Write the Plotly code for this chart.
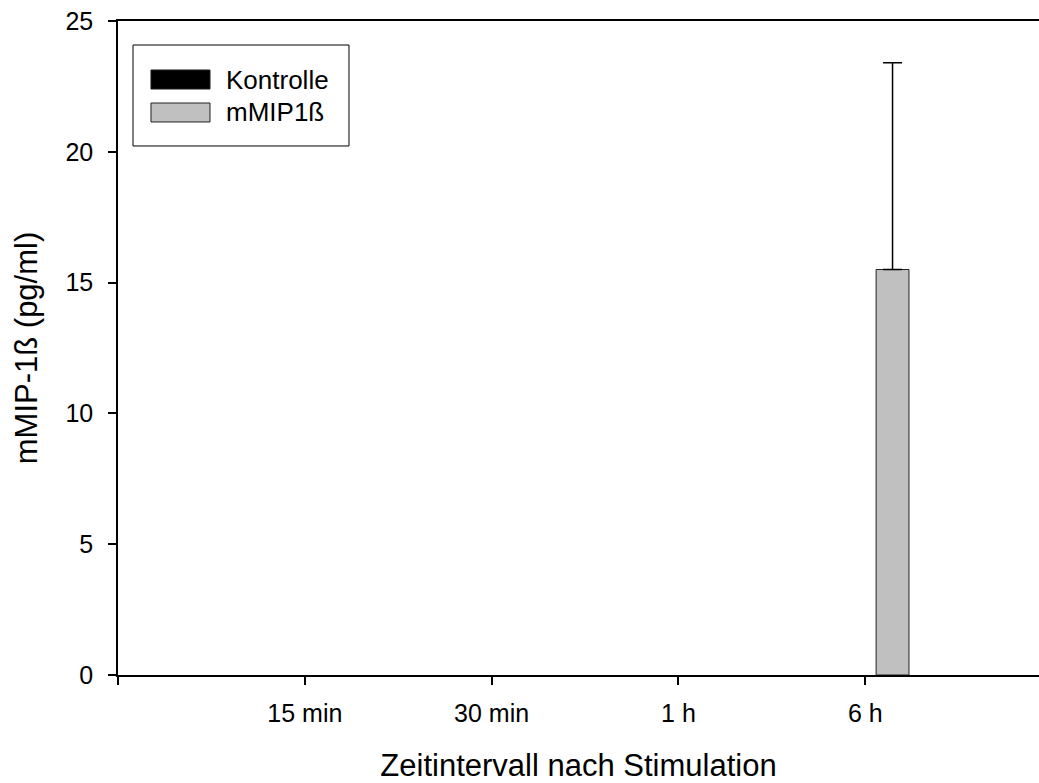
import plotly.graph_objects as go

# Data
categories = ["15 min", "30 min", "1 h", "6 h"]
kontrolle = [0, 0, 0, 0]
mmip1b = [0, 0, 0, 15.5]
mmip1b_err = [None, None, None, 7.9]

x_pos = [1, 2, 3, 4]
tick_vals = [0, 1, 2, 3, 4]
tick_text = [""] + categories

bar_w = 0.176
off_ctrl = -0.234
off_mip = 0.058
font_family = "Liberation Sans, Arial, sans-serif"


def outline_widths(values, w=1):
    # zero-height bars get no outline so the baseline stays clean
    return [w if v else 0 for v in values]


fig = go.Figure()

fig.add_trace(go.Bar(
    x=x_pos, y=kontrolle, name="Kontrolle",
    width=bar_w, offset=off_ctrl,
    marker=dict(color="black",
                line=dict(color="black", width=outline_widths(kontrolle))),
    showlegend=False,
))

fig.add_trace(go.Bar(
    x=x_pos, y=mmip1b, name="mMIP1ß",
    width=bar_w, offset=off_mip,
    marker=dict(color="#c0c0c0",
                line=dict(color="#202020", width=outline_widths(mmip1b))),
    showlegend=False,
))

# Upper error whiskers, only where an SD is given
err_pts = [(x + off_mip + bar_w / 2, v, e)
           for x, v, e in zip(x_pos, mmip1b, mmip1b_err) if e is not None]
fig.add_trace(go.Scatter(
    x=[p[0] for p in err_pts], y=[p[1] for p in err_pts],
    mode="markers", marker=dict(size=0.1, color="rgba(0,0,0,0)"),
    error_y=dict(type="data", array=[p[2] for p in err_pts],
                 symmetric=False, arrayminus=[0] * len(err_pts),
                 color="black", thickness=1.5, width=9.5),
    showlegend=False, hoverinfo="skip",
))

# Legend box drawn with shapes
legend_items = [("Kontrolle", "black", 0.9251, 0.8960),
                ("mMIP1ß", "#c0c0c0", 0.8746, 0.8456)]
shapes = [dict(type="rect", xref="paper", yref="paper",
               x0=0.0163, x1=0.2508, y0=0.8089, y1=0.9633,
               line=dict(color="black", width=1), fillcolor="white")]
annotations = []
for label, color, y1, y0 in legend_items:
    shapes.append(dict(type="rect", xref="paper", yref="paper",
                       x0=0.0358, x1=0.0999, y0=y0, y1=y1,
                       line=dict(color="#202020", width=1), fillcolor=color))
    annotations.append(dict(xref="paper", yref="paper",
                            x=0.1151, y=(y0 + y1) / 2, text=label,
                            showarrow=False, xanchor="left", yanchor="middle",
                            font=dict(family=font_family, size=26, color="black")))

fig.update_layout(
    width=1039, height=783,
    margin=dict(l=118, r=0, t=21, b=108),
    paper_bgcolor="white", plot_bgcolor="white",
    barmode="overlay",
    font=dict(family=font_family, size=24, color="black"),
    shapes=shapes,
    annotations=annotations,
    xaxis=dict(
        range=[0, 4.93], tickvals=tick_vals, ticktext=tick_text,
        showline=True, linecolor="black", linewidth=1.5, mirror=True,
        ticks="outside", ticklen=8, tickwidth=1.5, tickcolor="black",
        showgrid=False, zeroline=False,
        tickfont=dict(size=25), ticklabelstandoff=7,
        title=dict(text="Zeitintervall nach Stimulation",
                   font=dict(size=31), standoff=29),
    ),
    yaxis=dict(
        range=[0, 25], tickvals=[0, 5, 10, 15, 20, 25],
        showline=True, linecolor="black", linewidth=1.5,
        ticks="outside", ticklen=8, tickwidth=1.5, tickcolor="black",
        showgrid=False, zeroline=False,
        tickfont=dict(size=25), ticklabelstandoff=10,
        title=dict(text="mMIP-1ß (pg/ml)", font=dict(size=31), standoff=19),
    ),
)

fig.write_html("out.html")
